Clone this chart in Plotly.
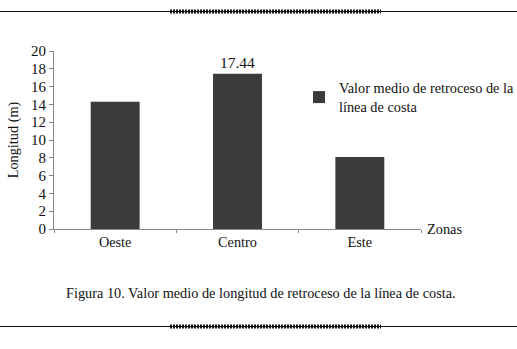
import plotly.graph_objects as go

zonas = ["Oeste", "Centro", "Este"]
valores = [14.3, 17.44, 8.1]
etiquetas = ["", "17.44", ""]
serie = "Valor medio de retroceso de la<br>línea de costa"
y_ticks = list(range(0, 21, 2))

FONT = "Liberation Serif"
W, H = 517, 349
L, R, T, B = 54, 517 - 421, 51, 349 - 229
PW, PH = W - L - R, H - T - B


def px_x(x):
    return (x - L) / PW


def px_y(y):
    return (H - y - B) / PH


fig = go.Figure()
fig.add_trace(go.Bar(
    x=zonas, y=valores, name=serie, width=0.4,
    marker=dict(color="#3b3b3b", line=dict(width=0)),
    text=etiquetas, textposition="outside",
    textfont=dict(family=FONT, size=15.5, color="#111"),
    cliponaxis=False, showlegend=True,
))

fig.update_layout(
    width=W, height=H,
    margin=dict(l=L, r=R, t=T, b=B, pad=0, autoexpand=False),
    paper_bgcolor="white", plot_bgcolor="white",
    font=dict(family=FONT, size=14, color="#111"),
    showlegend=True,
    legend=dict(x=px_x(299), y=px_y(72), xanchor="left", yanchor="top",
                font=dict(family=FONT, size=14.3, color="#111"),
                bgcolor="rgba(0,0,0,0)", itemwidth=30,
                tracegroupgap=0),
    xaxis=dict(showline=True, linecolor="#888", linewidth=1,
               ticks="outside", tickson="boundaries", ticklen=3,
               tickcolor="#888", showgrid=False, automargin=False,
               tickfont=dict(family=FONT, size=14.3, color="#111")),
    yaxis=dict(range=[0, 20], tickvals=y_ticks, showline=True,
               linecolor="#888", linewidth=1, ticks="outside",
               ticklen=4, tickcolor="#888", showgrid=False, zeroline=False,
               automargin=False,
               tickfont=dict(family=FONT, size=15, color="#111"),
               title=dict(text="Longitud (m)", standoff=8,
                          font=dict(family=FONT, size=14.3, color="#111"))),
)

fig.add_annotation(text="Zonas", x=px_x(425), y=0, xref="paper", yref="paper",
                   xanchor="left", yanchor="middle", showarrow=False,
                   font=dict(family=FONT, size=14.3, color="#111"))
fig.add_annotation(text="Figura 10. Valor medio de longitud de retroceso de la línea de costa.",
                   x=px_x(260.5), y=px_y(293), xref="paper", yref="paper",
                   xanchor="center", yanchor="middle", showarrow=False,
                   font=dict(family=FONT, size=14.3, color="#111"))


# decorative page rules (top and bottom)
def rule(ypix):
    yp = px_y(ypix)
    fig.add_shape(type="line", xref="paper", yref="paper",
                  x0=px_x(0), x1=px_x(W), y0=yp, y1=yp,
                  line=dict(color="#111", width=1.2))
    fig.add_shape(type="line", xref="paper", yref="paper",
                  x0=px_x(170), x1=px_x(381), y0=yp, y1=yp,
                  line=dict(color="#111", width=4, dash="2px,1px"))


rule(11.5)
rule(326.5)

fig.write_html("out.html", config={"displayModeBar": False},
               post_script="document.body.style.margin='0';document.body.style.overflow='hidden';")
